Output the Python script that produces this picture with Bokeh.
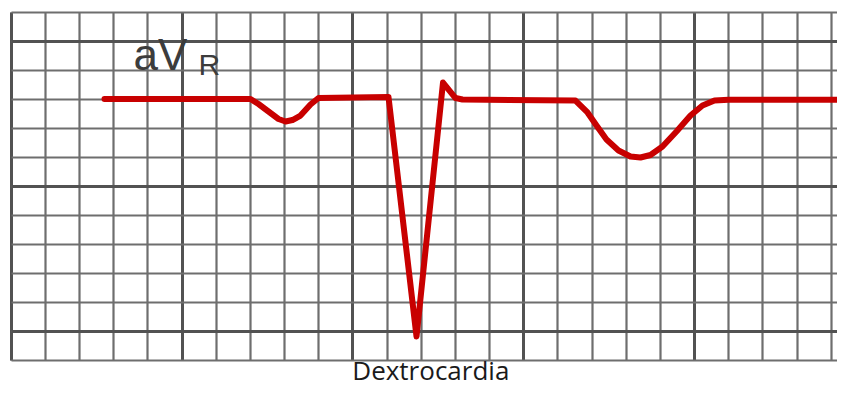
from bokeh.plotting import figure
from bokeh.models import Grid, SingleIntervalTicker, Label, Range1d, ColumnDataSource
from bokeh.embed import file_html
from bokeh.resources import INLINE

# ECG trace (grid units: x = small boxes, y = small boxes above the thick centre line)
trace_x = [2.730, 7.003, 7.237, 7.530, 7.823, 8.028, 8.232, 8.467, 8.759, 8.993,
           11.042, 11.862, 12.637, 13.003, 13.209, 16.514, 16.866, 17.129, 17.422,
           17.773, 18.124, 18.417, 18.709, 19.061, 19.470, 19.880, 20.231, 20.582,
           20.992, 24.270]
trace_y = [3.011, 3.011, 2.838, 2.580, 2.322, 2.236, 2.287, 2.442, 2.821, 3.045,
           3.080, -5.172, 3.579, 3.045, 2.993, 2.959, 2.546, 2.098, 1.616,
           1.237, 1.030, 0.996, 1.082, 1.374, 1.891, 2.442, 2.787, 2.959,
           2.983, 2.983]

lead_name = "aV"
lead_sub = "R"
caption = "Dextrocardia"

p = figure(width=837, height=387, output_backend="svg", toolbar_location=None,
           x_range=Range1d(-0.313, 24.182), y_range=Range1d(-6.927, 6.404),
           x_axis_location=None, y_axis_location=None,
           min_border_left=0, min_border_right=0, min_border_top=0, min_border_bottom=0)
p.outline_line_color = None
p.background_fill_color = "white"
p.border_fill_color = "white"
for g in list(p.grid):
    g.visible = False

vgrid = Grid(dimension=0, ticker=SingleIntervalTicker(interval=5, num_minor_ticks=5),
             bounds=(-0.01, 30), cross_bounds=(-6.0, 6.0),
             grid_line_color="#525252", grid_line_width=3,
             minor_grid_line_color="#6e6e6e", minor_grid_line_width=2.2)
hgrid = Grid(dimension=1, ticker=SingleIntervalTicker(interval=5, num_minor_ticks=5),
             bounds=(-6.01, 6.01), cross_bounds=(0.0, 30.0),
             grid_line_color="#525252", grid_line_width=3,
             minor_grid_line_color="#6e6e6e", minor_grid_line_width=2.2)
p.add_layout(vgrid)
p.add_layout(hgrid)

src = ColumnDataSource(data=dict(x=trace_x, y=trace_y))
p.line("x", "y", source=src, line_color="#c80000", line_width=6,
       line_join="round", line_cap="round")

p.add_layout(Label(x=3.58, y=4.544, text=lead_name, text_font="Liberation Sans",
                   text_font_size="44px", text_color="#3c3c3c", text_baseline="alphabetic"))
p.add_layout(Label(x=5.48, y=4.195, text=lead_sub, text_font="Liberation Sans",
                   text_font_size="30px", text_color="#3c3c3c", text_baseline="alphabetic"))
p.add_layout(Label(x=12.28, y=-6.321, text=caption, text_font="Open Sans",
                   text_font_size="26px", text_color="#1a1a1a", text_align="center",
                   text_baseline="alphabetic"))

open("out.html", "w").write(file_html(p, INLINE))
